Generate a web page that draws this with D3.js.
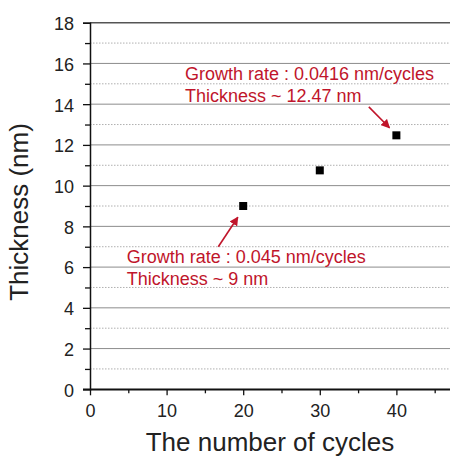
<!DOCTYPE html>
<html>
<head>
<meta charset="utf-8">
<script src="https://cdn.jsdelivr.net/npm/d3@7"></script>
<style>
  body { margin: 0; background: #fff; }
  text { font-family: Arial, "Liberation Sans", sans-serif; }
</style>
</head>
<body>
<div id="chart"></div>
<script>
// data
var cycles = [20, 30, 40];
var thickness = [9.0, 10.75, 12.47];
var xTicks = [0, 10, 20, 30, 40];
var yTicks = [0, 2, 4, 6, 8, 10, 12, 14, 16, 18];
var noteLines1 = ["Growth rate : 0.0416 nm/cycles", "Thickness ~ 12.47 nm"];
var noteLines2 = ["Growth rate : 0.045 nm/cycles", "Thickness ~ 9 nm"];

var width = 450, height = 456;
var red = "#c0152b";

var svg = d3.select("#chart")
  .append("svg")
    .attr("width", width)
    .attr("height", height);

// scales
var x = d3.scaleLinear()
  .domain([0, 47])
  .range([90, 450]);
var y = d3.scaleLinear()
  .domain([0, 18])
  .range([389.3, 22.7]);

// gridlines: solid at even values, dotted at odd values
var minorY = d3.range(1, 18, 2);
svg.append("g")
  .selectAll("line")
  .data(minorY)
  .enter()
  .append("line")
    .attr("x1", x(0)).attr("x2", x(47))
    .attr("y1", function (d) { return y(d); })
    .attr("y2", function (d) { return y(d); })
    .attr("stroke", "#b0b0b0")
    .attr("stroke-dasharray", "1.5,1.5");

svg.append("g")
  .selectAll("line")
  .data(yTicks.filter(function (d) { return d > 0; }))
  .enter()
  .append("line")
    .attr("x1", x(0)).attr("x2", x(47))
    .attr("y1", function (d) { return y(d); })
    .attr("y2", function (d) { return y(d); })
    .attr("stroke", function (d) { return d === 18 ? "#555" : "#8c8c8c"; })
    .attr("stroke-width", function (d) { return d === 18 ? 1.5 : 1; });

// Y axis
var yAxis = svg.append("g")
  .attr("transform", "translate(" + x(0) + ",0)")
  .call(d3.axisLeft(y).tickValues(yTicks).tickSize(7).tickPadding(9));
svg.append("g")
  .attr("transform", "translate(" + x(0) + ",0)")
  .call(d3.axisLeft(y).tickValues(minorY).tickSize(5).tickFormat(""))
  .call(function (g) { g.select(".domain").remove(); });

// X axis
var xAxis = svg.append("g")
  .attr("transform", "translate(0," + y(0) + ")")
  .call(d3.axisBottom(x).tickValues(xTicks).tickSize(6).tickPadding(9).tickSizeOuter(0));
svg.append("g")
  .attr("transform", "translate(0," + y(0) + ")")
  .call(d3.axisBottom(x).tickValues([5, 15, 25, 35, 45]).tickSize(4).tickFormat(""))
  .call(function (g) { g.select(".domain").remove(); });

// extend x axis line to the left like the original
svg.append("line")
  .attr("x1", x(0) - 7).attr("x2", x(47))
  .attr("y1", y(0)).attr("y2", y(0))
  .attr("stroke", "#111").attr("stroke-width", 1.5);

svg.selectAll(".domain").attr("stroke", "#111").attr("stroke-width", 1.5);
svg.selectAll(".tick line").attr("stroke", "#111").attr("stroke-width", 1.3);
svg.selectAll(".tick text")
  .attr("font-size", "18px")
  .attr("fill", "#222");
yAxis.selectAll(".tick text").attr("dy", "0.38em");

// axis titles
svg.append("text")
  .attr("x", 270)
  .attr("y", 451)
  .attr("text-anchor", "middle")
  .attr("font-size", "26px")
  .attr("fill", "#222")
  .text("The number of cycles");

svg.append("text")
  .attr("transform", "rotate(-90)")
  .attr("x", -212)
  .attr("y", 28)
  .attr("text-anchor", "middle")
  .attr("font-size", "26px")
  .attr("fill", "#222")
  .text("Thickness (nm)");

// data points
svg.append("g")
  .selectAll("rect")
  .data(cycles)
  .enter()
  .append("rect")
    .attr("x", function (d) { return x(d) - 4; })
    .attr("y", function (d, i) { return y(thickness[i]) - 4; })
    .attr("width", 8)
    .attr("height", 8)
    .attr("fill", "#000");

// annotations
var defs = svg.append("defs");
defs.append("marker")
  .attr("id", "arrow")
  .attr("viewBox", "0 0 10 10")
  .attr("refX", 9).attr("refY", 5)
  .attr("markerWidth", 9).attr("markerHeight", 9)
  .attr("markerUnits", "userSpaceOnUse")
  .attr("orient", "auto")
  .append("path")
    .attr("d", "M0,0 L10,5 L0,10 Z")
    .attr("fill", red);

function note(lines, tx, ty, from, to) {
  var t = svg.append("text")
    .attr("font-size", "18px")
    .attr("fill", red);
  lines.forEach(function (s, i) {
    t.append("tspan")
      .attr("x", x(tx))
      .attr("y", y(ty) + i * 21.7)
      .text(s);
  });
  svg.append("line")
    .attr("x1", x(from[0])).attr("y1", y(from[1]))
    .attr("x2", x(to[0])).attr("y2", y(to[1]))
    .attr("stroke", red)
    .attr("stroke-width", 1.6)
    .attr("marker-end", "url(#arrow)");
}

note(noteLines1, 12.4, 15.18, [36.4, 13.87], [39.1, 12.84]);
note(noteLines2, 4.79, 6.19, [16.75, 7.0], [19.3, 8.45]);
</script>
</body>
</html>
